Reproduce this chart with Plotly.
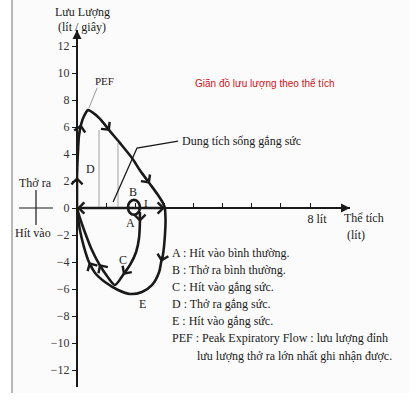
import plotly.graph_objects as go

W, H = 420, 400

# ---------------- data (volume in litres, flow in litres/second) ----------------
# forced expiration (D, PEF and descending limb)
EXP_V = [0, 0, 0.0, 0.03, 0.07, 0.14, 0.24, 0.38, 0.52, 0.79, 1.13, 1.48, 1.89, 2.16, 2.50, 2.78, 2.95, 3.02]
EXP_F = [0, 1.2, 2.3, 4.0, 5.4, 6.2, 6.8, 7.25, 7.1, 6.6, 5.7, 4.8, 3.7, 2.8, 1.8, 0.96, 0.37, 0]

# forced inspiration loop (E)
E_V = [3.02, 3.04, 3.02, 2.95, 2.89, 2.82, 2.58, 2.23, 1.82, 1.41, 0.96, 0.62, 0.41, 0.24, 0.10, 0.03, 0]
E_F = [0, -0.89, -2.0, -3.48, -4.0, -4.74, -5.70, -6.22, -6.37, -6.07, -5.48, -4.81, -4.0, -2.89, -1.63, -0.59, 0]

# forced inspiration from end of normal breath (C)
C_V = [2.16, 2.16, 2.13, 2.03, 1.82, 1.58, 1.30, 1.03, 0.76, 0.48, 0.28, 0.10, 0]
C_F = [-0.30, -1.04, -2.22, -3.26, -4.22, -4.96, -5.70, -5.04, -4.15, -2.96, -1.85, -0.74, 0]

# baseline along the volume axis (grey)
BASE_V = [0, 0.35, 2.7, 3.02]
BASE_F = [0, 0, 0, 0]

# tidal breathing loop (A / B) bounds
TIDAL_V = [1.75, 2.16]
TIDAL_F = [-0.50, 0.60]

# grey verticals under the expiratory limb
VL_V = [0.755, 1.408]
VL_TOP = [5.78, 4.81]

# pointer lines
PEF_PTR_V = [0.69, 0.41]
PEF_PTR_F = [8.89, 7.41]
FVC_PTR_V = [3.47, 2.06, 1.24]
FVC_PTR_F = [4.96, 4.44, 0.44]

Y_TICKS = [12, 10, 8, 6, 4, 2, 0, -2, -4, -6, -8, -10, -12]
X_TICKS = [1, 2, 3, 4, 5, 6, 7, 8]
X_TICKTEXT = ["", "", "", "", "", "", "", "8 lít"]

LEGEND = [
    "A : Hít vào bình thường.",
    "B : Thở ra bình thường.",
    "C : Hít vào gắng sức.",
    "D : Thở ra gắng sức.",
    "E : Hít vào gắng sức.",
    "PEF : Peak Expiratory Flow : lưu lượng đỉnh",
]
LEGEND_CONT = "lưu lượng thở ra lớn nhất ghi nhận được."

# ---------------- layout geometry ----------------
X0PX, Y0PX = 77, 208          # origin in pixels
SX, SY = 29.125, 13.5         # pixels per unit
XR = [0, (350 - X0PX) / SX]
YR = [(Y0PX - 387) / SY, (Y0PX - 30) / SY]


def px(x):
    return x / W


def py(y):
    return 1 - y / H


SERIF = "Liberation Serif"
INK = "#1a1a1a"

fig = go.Figure()


def line(xs, ys, color=INK, width=2.6, shape="spline"):
    fig.add_trace(go.Scatter(x=xs, y=ys, mode="lines", hoverinfo="skip",
                             line=dict(color=color, width=width, shape=shape, smoothing=0.8)))


# background panel
fig.add_shape(type="rect", xref="paper", yref="paper", x0=px(12), x1=px(409), y0=py(393), y1=py(0),
              fillcolor="#fbfbfb", line=dict(width=0), layer="below")
fig.add_shape(type="line", xref="paper", yref="paper", x0=px(12), x1=px(12), y0=py(393), y1=py(0),
              line=dict(color="#8a8a8a", width=1.2), layer="below")

# grey verticals
for v, t in zip(VL_V, VL_TOP):
    line([v, v], [0, t], color="#b0b0b0", width=1.2, shape="linear")

# grey baseline
line(BASE_V, BASE_F, color="#8c8c8c", width=3, shape="linear")

# curves
line(EXP_V, EXP_F)
line(E_V, E_F)
line(C_V, C_F)

# pointers
line(PEF_PTR_V, PEF_PTR_F, color="#9a9a9a", width=1, shape="linear")
line(FVC_PTR_V, FVC_PTR_F, color=INK, width=1.3, shape="linear")

# tidal loop
fig.add_shape(type="circle", xref="x", yref="y", x0=TIDAL_V[0], x1=TIDAL_V[1], y0=TIDAL_F[0], y1=TIDAL_F[1],
              line=dict(color=INK, width=2.6))

# arrows along the curves: (xs, ys, from-index, to-index)
ARROWS = [
    (EXP_V, EXP_F, 1, 2), (EXP_V, EXP_F, 4, 5), (EXP_V, EXP_F, 9, 10), (EXP_V, EXP_F, 13, 14),
    (BASE_V, BASE_F, 2, 3), (BASE_V, BASE_F, 1, 0),
    (E_V, E_F, 3, 4), (E_V, E_F, 11, 12),
    (C_V, C_F, 0, 1), (C_V, C_F, 4, 5), (C_V, C_F, 7, 8),
]
for xs, ys, i, j in ARROWS:
    fig.add_annotation(x=xs[j], y=ys[j], ax=xs[i], ay=ys[i], xref="x", yref="y", axref="x", ayref="y",
                       text="", showarrow=True, arrowhead=4, arrowsize=1.2, arrowwidth=1.8,
                       arrowcolor=INK, standoff=0)

# axis arrowheads
fig.add_annotation(x=XR[1], y=0, ax=XR[1] - 0.5, ay=0, xref="x", yref="y", axref="x", ayref="y",
                   text="", showarrow=True, arrowhead=2, arrowsize=1.2, arrowwidth=1.5, arrowcolor=INK, standoff=0)
fig.add_annotation(x=0, y=YR[1], ax=0, ay=YR[1] - 0.6, xref="x", yref="y", axref="x", ayref="y",
                   text="", showarrow=True, arrowhead=2, arrowsize=1.2, arrowwidth=1.5, arrowcolor=INK, standoff=0)

# breathing direction cross
fig.add_shape(type="line", xref="paper", yref="paper", x0=px(36), x1=px(36), y0=py(225), y1=py(190),
              line=dict(color=INK, width=1.2))
fig.add_shape(type="line", xref="paper", yref="paper", x0=px(19), x1=px(53), y0=py(208), y1=py(208),
              line=dict(color=INK, width=1.2))


def text(t, x, y, size=12, anchor="center", color=INK, family=SERIF):
    fig.add_annotation(text=t, x=px(x), y=py(y), xref="paper", yref="paper", showarrow=False,
                       xanchor=anchor, yanchor="middle", font=dict(family=family, size=size, color=color))


text("Lưu Lượng", 82, 12)
text("(lít / giây)", 82, 27)
text("PEF", 104, 81, 11)
text("Giãn đồ lưu lượng theo thể tích", 193, 84, 10, "left", "#d0121c", "Liberation Sans")
text("Dung tích sống gắng sức", 180, 141, 12, "left")
text("D", 90, 169)
text("B", 133, 192)
text("A", 130, 223)
text("I", 146, 203, 11)
text("C", 123, 260)
text("E", 142, 304)
text("Thở ra", 35, 183)
text("Hít vào", 33, 233)
text("Thể tích", 342, 218, 12, "left")
text("(lít)", 356, 235)
for k, s in enumerate(LEGEND):
    text(s, 170, 253 + 17 * k, 12, "left")
text(LEGEND_CONT, 195, 356, 12, "left")

fig.update_layout(
    width=W, height=H, margin=dict(l=0, r=0, t=0, b=0),
    paper_bgcolor="white", plot_bgcolor="rgba(0,0,0,0)", showlegend=False,
    xaxis=dict(domain=[px(X0PX), px(350)], range=XR, anchor="free", position=py(Y0PX),
               showline=True, linecolor=INK, linewidth=1.6, showgrid=False, zeroline=False,
               tickvals=X_TICKS, ticktext=X_TICKTEXT, ticks="inside", ticklen=4, tickcolor=INK,
               ticklabelshift=7, tickfont=dict(family=SERIF, size=12, color=INK)),
    yaxis=dict(domain=[py(387), py(30)], range=YR, anchor="free", position=px(X0PX),
               showline=True, linecolor=INK, linewidth=2, showgrid=False, zeroline=False,
               tickvals=Y_TICKS, ticks="outside", ticklen=4, tickcolor=INK,
               tickfont=dict(family=SERIF, size=12, color="#333")),
)

fig.write_html("out.html", config={"displayModeBar": False},
               post_script="document.body.style.margin='0';document.body.style.padding='0';")
